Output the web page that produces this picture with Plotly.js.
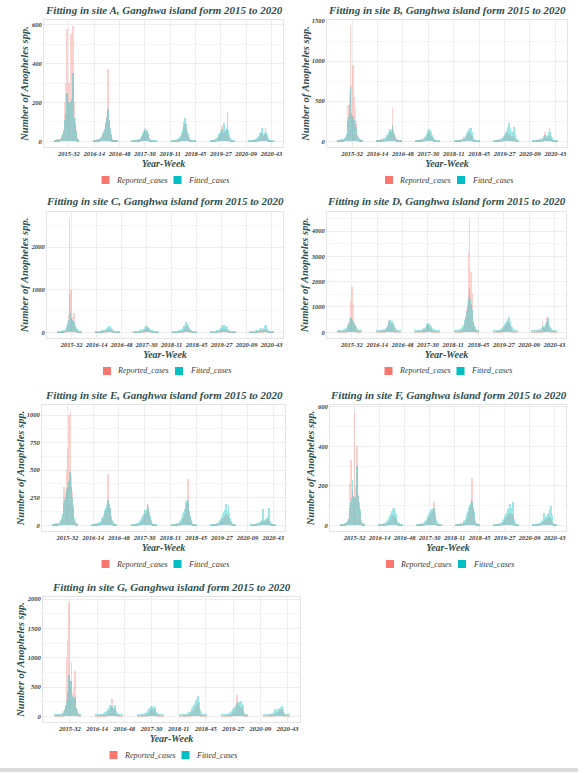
<!DOCTYPE html>
<html><head><meta charset="utf-8">
<script src="https://cdn.plot.ly/plotly-3.0.1.min.js"></script>
<style>html,body{margin:0;padding:0;background:#fff;}#chart{width:587px;height:773px;}</style>
</head><body><div id="chart"></div>
<script>
// ---------------- DATA ----------------
const sites = ['A','B','C','D','E','F','G'];
const years = [2015,2016,2017,2018,2019,2020];
const weeksPerYear = [52,52,53,52,52,52];
const seasonFirstWeek = 13;   // each season array covers weeks 13..45
const tickLabels = ['2015-32','2016-14','2016-48','2017-30','2018-11','2018-45','2019-27','2020-09','2020-43'];
const seriesNames = ['Reported_cases','Fitted_cases'];

const repA = [
 [2,3,4,5,5,6,8,10,12,15,20,35,60,110,200,300,580,250,120,300,210,150,555,280,595,350,200,120,60,30,10,5,2],
 [2,2,2,3,3,3,4,5,6,8,12,18,25,35,45,60,75,100,130,370,150,110,60,30,12,5,3,2,2,2,2,2,2],
 [1,1,1,2,2,2,3,3,4,5,6,8,12,20,30,45,25,55,35,40,50,30,20,12,6,3,2,1,1,1,1,1,1],
 [1,1,1,2,2,2,3,4,5,6,8,10,15,22,30,45,60,80,95,70,60,40,25,12,6,3,2,1,1,1,1,1,1],
 [1,1,2,2,3,3,4,5,6,8,10,15,20,30,40,50,80,35,45,30,50,40,60,45,25,15,8,4,2,1,1,1,1],
 [1,1,1,1,2,2,2,3,4,5,6,8,10,15,20,25,35,40,30,20,25,35,45,30,15,8,4,2,1,1,1,1,1]
];
const fitA = [
 [8,8,8,9,9,10,10,12,14,18,25,35,55,80,110,140,250,230,130,200,180,150,200,220,350,200,120,90,55,30,15,10,8],
 [8,8,8,8,8,9,9,10,12,15,20,28,36,45,55,65,80,95,120,165,140,110,70,35,15,10,8,8,8,8,8,8,8],
 [6,6,6,6,6,7,7,8,9,10,12,15,20,28,40,55,45,65,70,50,60,45,30,18,10,8,6,6,6,6,6,6,6],
 [6,6,6,6,7,7,8,9,10,12,15,20,28,38,50,65,80,100,120,90,75,55,35,20,12,8,6,6,6,6,6,6,6],
 [6,6,6,7,7,8,9,10,12,15,20,25,35,45,55,60,65,50,95,55,60,50,70,150,60,35,18,10,7,6,6,6,6],
 [6,6,6,6,6,7,7,8,9,10,12,15,20,25,30,40,50,70,40,30,35,45,70,50,30,18,10,7,6,6,6,6,6]
];
const repB = [
 [5,5,6,6,7,8,9,10,12,15,25,40,80,200,450,300,600,1440,700,500,950,900,550,400,250,150,80,40,20,10,6,5,5],
 [3,3,3,4,4,5,6,7,8,10,12,15,20,30,45,60,80,110,130,100,120,420,150,90,50,25,12,6,4,3,3,3,3],
 [2,2,2,3,3,4,5,6,8,10,12,15,20,28,40,55,70,90,110,80,70,60,40,25,12,6,3,2,2,2,2,2,2],
 [2,2,2,3,3,4,5,6,8,10,12,16,22,30,40,55,70,85,100,110,90,80,60,35,18,8,4,2,2,2,2,2,2],
 [2,2,2,3,3,4,5,6,8,10,14,18,25,35,45,60,80,100,120,90,85,70,60,55,50,60,70,40,20,8,4,2,2],
 [1,1,2,2,2,3,3,4,5,6,8,10,14,18,25,35,110,40,30,35,45,60,70,50,30,15,8,4,2,1,1,1,1]
];
const fitB = [
 [20,20,20,20,22,22,24,26,28,32,40,55,90,150,250,300,450,680,350,300,280,320,260,220,180,120,80,50,35,25,22,20,20],
 [20,20,20,20,20,21,22,24,26,30,35,42,50,60,75,95,120,150,140,120,150,200,130,90,55,35,25,22,20,20,20,20,20],
 [18,18,18,18,19,20,21,22,25,28,32,38,45,55,70,85,100,130,150,120,145,110,80,50,35,25,20,18,18,18,18,18,18],
 [18,18,18,18,19,20,21,23,25,28,33,40,48,58,70,85,100,125,150,170,140,165,120,80,45,28,20,18,18,18,18,18,18],
 [18,18,18,19,20,21,22,24,27,30,35,42,50,60,75,90,110,130,150,180,230,160,120,110,100,120,130,180,90,40,25,20,18],
 [18,18,18,18,18,19,20,21,22,24,27,30,35,40,50,60,80,55,50,60,80,110,170,120,70,40,25,20,18,18,18,18,18]
];
const repC = [
 [3,3,4,4,5,6,7,8,10,12,15,25,50,100,200,400,2690,600,1000,500,350,300,450,250,150,80,40,20,10,5,4,3,3],
 [2,2,2,3,3,4,5,6,8,10,12,15,20,28,35,45,55,70,80,60,65,50,35,20,10,5,3,2,2,2,2,2,2],
 [2,2,2,3,3,4,5,6,8,10,14,18,25,35,45,60,70,90,110,80,60,45,30,18,10,5,3,2,2,2,2,2,2],
 [2,2,2,3,3,4,5,6,8,10,14,20,28,38,50,65,80,100,120,140,110,90,60,35,18,8,4,2,2,2,2,2,2],
 [2,2,2,3,3,4,5,6,8,10,14,18,25,35,50,65,80,70,60,70,80,60,40,25,12,6,3,2,2,2,2,2,2],
 [1,1,1,2,2,2,3,4,5,6,8,10,14,18,25,35,50,40,35,45,55,65,80,60,35,18,8,4,2,1,1,1,1]
];
const fitC = [
 [35,35,35,36,37,38,40,42,45,50,60,75,100,150,220,300,900,450,330,300,280,260,250,200,150,100,70,50,42,38,36,35,35],
 [35,35,35,35,36,37,38,40,43,47,52,58,65,75,85,100,120,150,130,120,150,110,80,55,42,37,35,35,35,35,35,35,35],
 [35,35,35,35,36,37,38,40,43,47,52,60,70,85,100,120,140,170,150,130,110,90,70,55,45,38,35,35,35,35,35,35,35],
 [35,35,35,35,36,37,38,40,43,48,55,65,80,100,120,150,180,210,250,200,180,150,110,75,50,40,36,35,35,35,35,35,35],
 [35,35,35,36,37,38,40,42,45,50,56,65,78,95,115,140,160,180,140,130,150,120,90,65,48,40,36,35,35,35,35,35,35],
 [35,35,35,35,35,36,37,38,40,42,45,50,55,62,70,85,100,80,75,90,110,140,180,130,80,50,40,36,35,35,35,35,35]
];
const repD = [
 [10,10,12,14,16,18,20,25,30,40,50,70,100,150,250,400,600,1250,900,1800,1100,600,400,300,200,120,70,40,25,15,12,10,10],
 [8,8,9,10,12,14,16,20,25,32,40,55,75,100,140,190,260,500,350,300,330,380,250,160,100,60,35,20,12,10,8,8,8],
 [8,8,9,10,12,14,16,20,25,32,40,55,75,100,140,180,230,300,260,220,180,140,100,70,45,28,18,12,10,8,8,8,8],
 [10,10,12,14,16,20,25,30,40,55,75,100,150,250,400,600,900,700,1200,3200,4530,1800,2400,1500,800,400,200,100,50,25,15,10,10],
 [8,8,9,10,12,14,16,20,25,32,40,55,75,100,130,170,220,280,330,300,400,350,250,180,120,70,40,22,12,10,8,8,8],
 [6,6,7,8,9,10,12,15,18,22,28,35,45,60,450,120,150,180,220,260,600,400,250,160,100,60,35,20,12,8,6,6,6]
];
const fitD = [
 [90,90,90,92,94,96,100,105,110,120,135,155,180,220,270,330,400,480,550,500,420,380,320,270,220,170,135,115,105,100,95,90,90],
 [90,90,90,91,92,94,96,100,105,112,120,135,155,185,220,270,330,400,480,420,400,450,380,300,230,170,130,110,100,95,92,90,90],
 [90,90,90,91,92,94,96,100,105,112,120,135,155,185,220,260,310,360,380,330,290,250,210,170,140,120,105,98,94,92,90,90,90],
 [95,95,96,98,100,105,110,120,135,155,185,230,290,370,470,600,750,850,1000,1400,1750,1300,1100,900,650,450,300,200,145,115,100,95,95],
 [90,90,90,91,92,94,96,100,105,112,122,138,160,190,230,280,330,380,430,480,520,620,450,350,260,190,145,118,104,96,92,90,90],
 [90,90,90,91,92,94,96,100,105,110,118,128,140,160,250,200,230,260,300,350,420,550,380,280,200,150,120,105,96,92,90,90,90]
];
const repE = [
 [3,3,4,4,5,6,8,10,12,15,20,30,50,90,150,350,250,300,400,500,700,1000,600,1040,450,300,180,100,50,25,10,5,3],
 [2,2,3,3,4,5,6,8,10,13,17,22,30,40,55,70,90,110,130,150,180,470,200,150,100,60,30,15,8,4,3,2,2],
 [2,2,2,3,3,4,5,6,8,10,13,17,22,30,40,50,65,80,100,90,120,150,180,100,60,30,15,8,4,3,2,2,2],
 [2,2,2,3,3,4,5,6,8,10,13,17,22,30,40,55,75,100,130,160,200,420,180,120,70,35,15,8,4,3,2,2,2],
 [2,2,2,3,3,4,5,6,8,10,13,17,22,30,40,50,60,70,80,90,100,80,70,90,60,35,18,8,4,3,2,2,2],
 [1,1,1,2,2,2,3,4,5,6,8,10,13,17,22,28,35,40,30,35,40,45,50,55,35,20,10,5,3,2,1,1,1]
];
const fitE = [
 [15,15,15,16,17,18,20,22,25,30,38,50,70,100,150,200,230,260,300,330,350,400,480,420,350,250,170,110,70,40,25,18,15],
 [15,15,15,15,16,17,18,20,23,27,32,40,50,62,78,95,115,135,160,185,200,230,190,160,120,80,50,32,22,18,16,15,15],
 [12,12,12,13,14,15,16,18,20,24,30,38,48,60,75,90,105,120,140,110,150,190,160,120,80,50,30,20,15,13,12,12,12],
 [12,12,12,13,14,15,16,18,21,25,30,38,48,62,80,100,125,150,180,210,230,220,180,130,85,50,30,20,15,13,12,12,12],
 [12,12,12,13,14,15,16,18,21,25,30,38,48,60,75,90,105,120,140,150,190,130,120,180,110,70,40,22,15,13,12,12,12],
 [12,12,12,12,13,13,14,15,17,19,22,26,30,35,40,45,150,50,45,50,55,60,70,80,160,60,35,20,14,13,12,12,12]
];
const repF = [
 [2,2,3,3,4,5,6,8,10,14,20,35,60,210,330,180,160,150,140,580,200,150,400,250,160,100,60,30,15,8,4,3,2],
 [1,1,1,2,2,2,3,4,5,6,8,10,13,17,22,28,34,40,45,50,48,44,40,30,20,12,6,3,2,1,1,1,1],
 [1,1,1,2,2,2,3,4,5,6,8,10,14,18,24,30,36,42,48,55,60,50,70,120,45,25,12,6,3,2,1,1,1],
 [1,1,1,2,2,2,3,4,5,6,8,10,14,18,24,32,42,55,70,85,100,110,240,90,50,25,12,6,3,2,1,1,1],
 [1,1,1,2,2,2,3,4,5,6,8,10,13,17,22,28,34,40,46,52,56,60,50,45,55,40,20,10,4,2,1,1,1],
 [1,1,1,1,2,2,2,3,4,5,6,8,10,13,16,20,24,28,30,28,32,35,38,40,42,30,15,7,3,2,1,1,1]
];
const fitF = [
 [8,8,8,8,9,9,10,11,13,16,20,30,50,90,120,140,230,150,130,140,145,135,300,200,150,120,80,45,25,14,10,9,8],
 [7,7,7,7,8,8,9,10,11,13,16,20,25,31,38,46,55,62,70,80,75,85,70,55,38,24,15,10,8,7,7,7,7],
 [7,7,7,7,8,8,9,10,11,13,16,20,26,33,40,48,55,62,68,75,80,70,75,85,60,40,25,15,10,8,7,7,7],
 [7,7,7,7,8,8,9,10,11,13,16,20,26,34,44,56,68,80,92,105,115,130,120,95,65,40,24,14,10,8,7,7,7],
 [7,7,7,7,8,8,9,10,11,13,16,20,25,31,38,46,55,62,70,80,90,110,75,65,85,120,60,30,15,9,7,7,7],
 [7,7,7,7,7,8,8,9,10,11,13,15,18,22,27,32,60,40,38,42,48,55,60,70,80,100,50,25,12,8,7,7,7]
];
const repG = [
 [5,5,6,7,8,9,10,12,15,20,28,40,60,100,200,1000,1320,700,1940,600,500,930,400,350,500,780,300,150,80,40,20,10,6],
 [3,3,3,4,5,6,7,9,11,14,18,24,32,42,55,70,90,110,150,130,300,120,110,140,100,60,30,15,8,5,4,3,3],
 [3,3,3,4,5,6,7,9,11,14,18,24,32,45,60,80,100,120,130,110,100,120,90,60,35,18,9,5,4,3,3,3,3],
 [3,3,3,4,5,6,7,9,11,14,18,24,32,42,55,70,90,110,130,150,170,200,220,150,90,45,20,10,5,4,3,3,3],
 [3,3,3,4,5,6,7,9,11,14,18,24,32,42,55,70,90,110,130,370,160,180,200,150,130,160,90,45,20,10,5,3,3],
 [2,2,2,3,3,4,5,6,8,10,13,17,22,28,35,45,55,65,75,80,90,100,110,120,80,45,20,10,5,3,2,2,2]
];
const fitG = [
 [35,35,35,36,37,38,40,43,47,53,62,75,95,130,180,260,350,420,700,550,600,450,350,300,320,330,220,150,100,65,48,40,36],
 [35,35,35,36,37,38,40,43,47,53,60,70,82,95,110,130,150,200,170,160,180,150,140,190,130,90,60,45,38,36,35,35,35],
 [35,35,35,36,37,38,40,43,47,53,60,70,85,105,130,150,170,160,165,150,170,140,110,80,58,45,38,36,35,35,35,35,35],
 [35,35,35,36,37,38,40,43,47,53,60,70,82,98,118,140,165,190,215,240,260,290,340,250,170,110,70,48,40,36,35,35,35],
 [35,35,35,36,37,38,40,43,47,53,60,70,82,98,118,140,160,180,200,230,220,250,200,190,270,210,180,100,60,42,37,35,35],
 [35,35,35,35,36,37,38,40,43,47,52,58,65,75,120,90,100,110,120,130,140,150,160,180,130,90,60,45,38,36,35,35,35]
];
const reported = {A:repA,B:repB,C:repC,D:repD,E:repE,F:repF,G:repG};
const fitted = {A:fitA,B:fitB,C:fitC,D:fitD,E:fitE,F:fitF,G:fitG};
const yTickStep = {A:200,B:500,C:1000,D:1000,E:250,F:200,G:500};

// ---------------- LAYOUT HELPERS ----------------
const W = 587, H = 773;
const boxes = {A:[44,283,20,147], B:[327,567,20,147], C:[47,283,212,338], D:[327,566,212,338],
               E:[42,285,405,531], F:[330,566,405,531], G:[43,300,597,722]};
const COL_REP = '#F8766D', COL_FIT = '#00BFC4';
const SERIF = 'Liberation Serif';
const TITLE_COL = '#2F4F4F';

const weekCats = [];
years.forEach((y,i)=>{ for(let w=1; w<=weeksPerYear[i]; w++) weekCats.push(y+'-'+String(w).padStart(2,'0')); });
function seasonX(){
  const xs=[];
  years.forEach(y=>{ for(let k=0;k<33;k++) xs.push(y+'-'+String(seasonFirstWeek+k).padStart(2,'0')); });
  return xs;
}
const px = v => v/W, py = v => 1 - v/H;

const traces = [];
const layout = {
  width: W, height: H, margin:{l:0,r:0,t:0,b:0},
  paper_bgcolor:'#fff', plot_bgcolor:'#fff',
  barmode:'overlay', bargap:0, showlegend:false,
  annotations:[], shapes:[]
};

sites.forEach((s,i)=>{
  const sfx = i===0 ? '' : String(i+1);
  const xa = 'x'+sfx, ya = 'y'+sfx;
  const xs = seasonX();
  const rep = [].concat(...reported[s]);
  const fit = [].concat(...fitted[s]);
  traces.push({type:'bar', name:seriesNames[0], x:xs, y:rep, xaxis:xa, yaxis:ya,
    marker:{color:COL_REP, line:{width:0}}, opacity:0.33, hoverinfo:'skip'});
  traces.push({type:'bar', name:seriesNames[1], x:xs, y:fit, xaxis:xa, yaxis:ya,
    marker:{color:COL_FIT, line:{width:0}}, opacity:0.38, hoverinfo:'skip'});
  const mx = Math.max(...rep, ...fit);
  const [x0,x1,y0,y1] = boxes[s];
  const tickFont = {family:SERIF, size:6.5, color:'#3a3a3a', weight:'bold', style:'italic'};
  layout['xaxis'+sfx] = {
    domain:[px(x0),px(x1)], anchor:ya, type:'category',
    categoryorder:'array', categoryarray:weekCats, range:[-2.5,318.5],
    tickmode:'array', tickvals:tickLabels, ticktext:tickLabels, tickangle:0,
    tickfont:tickFont, ticks:'', showgrid:true, gridcolor:'#eeeeee', gridwidth:0.6,
    showline:true, mirror:true, linecolor:'#e4e4e4', linewidth:1, zeroline:false,
    automargin:false, fixedrange:true,
    title:{text:'Year-Week', standoff:4, font:{family:SERIF, size:10, color:TITLE_COL, weight:'bold', style:'italic'}}
  };
  layout['yaxis'+sfx] = {
    domain:[py(y1),py(y0)], anchor:xa, range:[-0.05*mx, 1.05*mx],
    tick0:0, dtick:yTickStep[s], tickfont:tickFont, ticks:'',
    showgrid:true, gridcolor:'#eeeeee', gridwidth:0.6,
    minor:{showgrid:true, gridcolor:'#f6f6f6', gridwidth:0.5, dtick:yTickStep[s]/2},
    showline:true, mirror:true, linecolor:'#e4e4e4', linewidth:1, zeroline:false,
    automargin:false, fixedrange:true,
    title:{text:'Number of Anopheles spp.', standoff:0, font:{family:SERIF, size:10.5, color:TITLE_COL, weight:'bold', style:'italic'}}
  };
  const cx = (x0+x1)/2;
  layout.annotations.push({
    text:'Fitting in site '+s+', Ganghwa island form 2015 to 2020', xref:'paper', yref:'paper',
    x:px(cx), y:py(y0-10.5), xanchor:'center', yanchor:'middle', showarrow:false,
    font:{family:SERIF, size:11, color:TITLE_COL, weight:'bold', style:'italic'}
  });
  const ly = y1 + 33;
  layout.shapes.push({type:'rect', xref:'paper', yref:'paper', x0:px(cx-62), x1:px(cx-54), y0:py(ly+4), y1:py(ly-4), fillcolor:COL_REP, line:{width:0}});
  layout.shapes.push({type:'rect', xref:'paper', yref:'paper', x0:px(cx+10), x1:px(cx+18), y0:py(ly+4), y1:py(ly-4), fillcolor:COL_FIT, line:{width:0}});
  layout.annotations.push({text:seriesNames[0], xref:'paper', yref:'paper', x:px(cx-50), y:py(ly), xanchor:'left', yanchor:'middle', showarrow:false,
    font:{family:SERIF, size:8, color:'#383838', style:'italic'}});
  layout.annotations.push({text:seriesNames[1], xref:'paper', yref:'paper', x:px(cx+22.5), y:py(ly), xanchor:'left', yanchor:'middle', showarrow:false,
    font:{family:SERIF, size:8, color:'#383838', style:'italic'}});
});
layout.shapes.push({type:'rect', xref:'paper', yref:'paper', x0:0, x1:px(578), y0:py(772), y1:py(768), fillcolor:'#dcdcdc', line:{width:0}});

Plotly.newPlot('chart', traces, layout, {displayModeBar:false, responsive:false});
</script>
</body></html>
